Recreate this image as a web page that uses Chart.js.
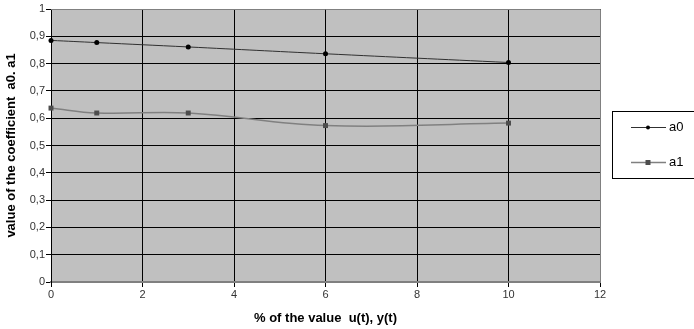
<!DOCTYPE html>
<html>
<head>
<meta charset="utf-8">
<script src="https://cdn.jsdelivr.net/npm/chart.js@4/dist/chart.umd.min.js"></script>
<style>
  html, body { margin: 0; padding: 0; background: #fff; }
  #wrap { width: 694px; height: 329px; position: relative; }
</style>
</head>
<body>
<div id="wrap"><canvas id="c" width="694" height="329"></canvas></div>
<script>
const xValues = [0, 1, 3, 6, 10];
const a0Values = [0.885, 0.877, 0.861, 0.836, 0.804];
const a1Values = [0.637, 0.619, 0.619, 0.573, 0.582];
const seriesNames = ['a0', 'a1'];
const yTickLabels = ['0', '0,1', '0,2', '0,3', '0,4', '0,5', '0,6', '0,7', '0,8', '0,9', '1'];
const xTickLabels = ['0', '2', '4', '6', '8', '10', '12'];
const xTitle = '% of the value  u(t), y(t)';
const yTitle = 'value of the coefficient  a0. a1';

const FONT = "'Liberation Sans', Arial, sans-serif";

const plotBg = {
  id: 'plotBg',
  beforeDraw(chart) {
    const { ctx, chartArea: a } = chart;
    ctx.save();
    ctx.fillStyle = '#c0c0c0';
    ctx.fillRect(a.left, a.top, a.right - a.left, a.bottom - a.top);
    ctx.restore();
  },
  afterDraw(chart) {
    const { ctx, chartArea: a } = chart;
    ctx.save();
    ctx.strokeStyle = '#808080';
    ctx.lineWidth = 1;
    ctx.beginPath();
    ctx.moveTo(a.left, a.top + 0.5);
    ctx.lineTo(a.right + 0.5, a.top + 0.5);
    ctx.lineTo(a.right + 0.5, a.bottom);
    ctx.stroke();
    // legend box
    const bx = 612.5, by = 111.5, bw = 90, bh = 67;
    ctx.fillStyle = '#fff';
    ctx.fillRect(bx, by, bw, bh);
    ctx.strokeStyle = '#000';
    ctx.strokeRect(bx, by, bw, bh);
    const rowsY = [127, 162];
    chart.data.datasets.forEach((ds, i) => {
      const y = rowsY[i] + 0.5;
      ctx.strokeStyle = ds.borderColor;
      ctx.lineWidth = ds.borderWidth;
      ctx.beginPath();
      ctx.moveTo(631, y);
      ctx.lineTo(666, y);
      ctx.stroke();
      ctx.fillStyle = ds.pointBackgroundColor;
      if (ds.pointStyle === 'rect') {
        ctx.fillRect(645.5, y - 2.5, 5, 5);
      } else {
        ctx.beginPath();
        ctx.arc(648, y, 2, 0, Math.PI * 2);
        ctx.fill();
      }
      ctx.fillStyle = '#000';
      ctx.font = '13px ' + FONT;
      ctx.textBaseline = 'middle';
      ctx.textAlign = 'left';
      ctx.fillText(ds.label, 669, y);
    });
    ctx.restore();
  }
};

new Chart(document.getElementById('c'), {
  type: 'line',
  data: {
    datasets: [
      {
        label: seriesNames[0],
        data: xValues.map((x, i) => ({ x, y: a0Values[i] })),
        borderColor: '#303030',
        borderWidth: 1,
        pointStyle: 'circle',
        pointRadius: 2.5,
        pointBackgroundColor: '#000',
        pointBorderWidth: 0,
        tension: 0.4,
        clip: false
      },
      {
        label: seriesNames[1],
        data: xValues.map((x, i) => ({ x, y: a1Values[i] })),
        borderColor: '#808080',
        borderWidth: 1.5,
        pointStyle: 'rect',
        pointRadius: 3.5,
        pointBackgroundColor: '#4d4d4d',
        pointBorderWidth: 0,
        tension: 0.4,
        clip: false
      }
    ]
  },
  plugins: [plotBg],
  options: {
    responsive: false,
    animation: false,
    events: [],
    layout: { padding: { top: 9, right: 94, left: 0, bottom: 0 } },
    plugins: { legend: { display: false }, tooltip: { enabled: false } },
    scales: {
      x: {
        type: 'linear',
        min: 0, max: 12,
        ticks: {
          stepSize: 2,
          color: '#333',
          font: { family: FONT, size: 11 },
          padding: 1,
          maxRotation: 0,
          callback: (v, i) => xTickLabels[i]
        },
        grid: { color: '#000', lineWidth: 1, tickLength: 5, drawOnChartArea: true },
        border: { color: '#808080', width: 2 },
        title: {
          display: true, text: xTitle, color: '#000',
          font: { family: FONT, size: 13, weight: 'bold' },
          padding: { top: 0, bottom: 3 }
        },
        afterFit: s => { s.height = 47; }
      },
      y: {
        type: 'linear',
        min: 0, max: 1,
        ticks: {
          stepSize: 0.1,
          color: '#333',
          font: { family: FONT, size: 11 },
          padding: 1,
          callback: (v, i) => yTickLabels[i]
        },
        grid: { color: '#000', lineWidth: 1, tickLength: 5 },
        border: { color: '#000', width: 1 },
        title: {
          display: true, text: yTitle, color: '#000',
          font: { family: FONT, size: 13, weight: 'bold' },
          padding: { top: 4, bottom: 0 }
        },
        afterFit: s => { s.width = 51; }
      }
    }
  }
});
</script>
</body>
</html>
